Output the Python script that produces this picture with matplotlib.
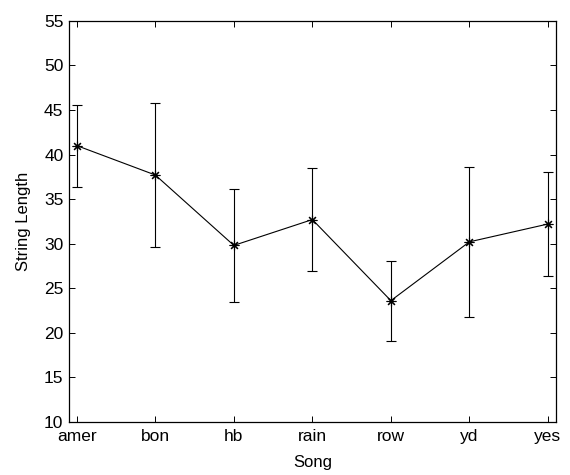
import matplotlib.pyplot as plt
import numpy as np

plt.rcParams['font.family'] = ['Liberation Sans', 'DejaVu Sans']

songs = ['amer', 'bon', 'hb', 'rain', 'row', 'yd', 'yes']
mean_len = [41.0, 37.7, 29.8, 32.7, 23.6, 30.2, 32.2]
err_len = [4.6, 8.1, 6.3, 5.8, 4.5, 8.4, 5.8]
yticks = [10, 15, 20, 25, 30, 35, 40, 45, 50, 55]

x = np.arange(1, len(songs) + 1)

fig = plt.figure(figsize=(5.7, 4.75), dpi=100)
ax = fig.add_axes([0.121, 0.112, 0.854, 0.844])

ax.errorbar(x, mean_len, yerr=err_len, color='black', lw=0.8,
            marker=(8, 2, 0), markersize=7, mew=0.8,
            capsize=3.6, capthick=0.8, elinewidth=0.8)

ax.set_xlim(0.9, 7.1)
ax.set_ylim(10, 55)
ax.set_xticks(x)
ax.set_xticklabels(songs)
ax.set_yticks(yticks)
ax.tick_params(direction='in', top=True, right=True, labelsize=12.5,
               length=4, width=0.7)
ax.tick_params(axis='x', pad=5)
ax.tick_params(axis='y', pad=4)
for s in ax.spines.values():
    s.set_linewidth(0.9)

ax.set_xlabel('Song', fontsize=12, labelpad=8)
ax.set_ylabel('String Length', fontsize=12, labelpad=9)

plt.savefig('out.png')
